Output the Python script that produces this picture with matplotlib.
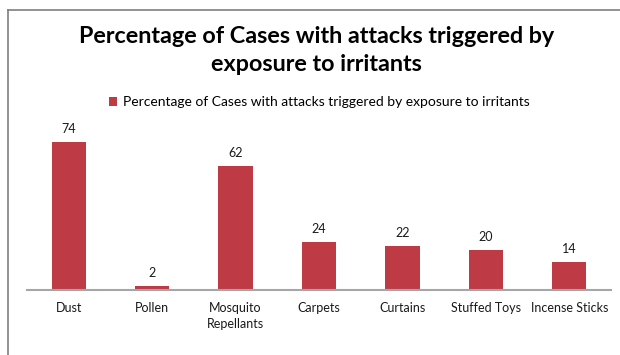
import matplotlib.pyplot as plt
from matplotlib.lines import Line2D

categories = ["Dust", "Pollen", "Mosquito\nRepellants", "Carpets", "Curtains",
              "Stuffed Toys", "Incense Sticks"]
values = [74, 2, 62, 24, 22, 20, 14]
series_name = "Percentage of Cases with attacks triggered by exposure to irritants"
title = "Percentage of Cases with attacks triggered by\nexposure to irritants"

plt.rcParams["font.family"] = ["Lato", "DejaVu Sans"]

fig = plt.figure(figsize=(6.2, 3.55), dpi=100)
W, H = 620, 355

# chart area border (only top and left edges visible)
fig.add_artist(Line2D([8 / W, 8 / W], [0, 1 - 10 / H], transform=fig.transFigure,
                      color="#7f7f7f", lw=1.2))
fig.add_artist(Line2D([8 / W, 1], [1 - 10 / H, 1 - 10 / H], transform=fig.transFigure,
                      color="#7f7f7f", lw=1.2))

# plot area: baseline at y=290, 2 px per unit
left, right = 27, 611
base = 290
top = 142 - 20
ax = fig.add_axes([left / W, 1 - base / H, (right - left) / W, (base - top) / H])
ymax = (base - top) / 2.0

x = range(len(categories))
bars = ax.bar(x, values, width=0.41, color="#BE3B45", label=series_name)
for xi, v in zip(x, values):
    ax.text(xi, v + 3.5, str(v), ha="center", va="bottom", fontsize=9, color="#1a1a1a")

ax.set_xlim(-0.5, len(categories) - 0.5)
ax.set_ylim(0, ymax)
ax.set_xticks(list(x))
ax.set_xticklabels(categories, fontsize=9, color="#1a1a1a", linespacing=1.4)
ax.tick_params(axis="x", length=0, pad=9)
ax.set_yticks([])
for s in ["top", "right", "left"]:
    ax.spines[s].set_visible(False)
ax.spines["bottom"].set_color("#a6a6a6")
ax.spines["bottom"].set_linewidth(1.5)

fig.text(0.51, 1 - 50.5 / H, title, ha="center", va="center", fontsize=16.8,
         fontweight="bold", linespacing=1.45, color="black")

fig.legend(handles=[bars], labels=[series_name], loc="center",
           bbox_to_anchor=(0.515, 1 - 102 / H), frameon=False, fontsize=10,
           handlelength=0.6, handleheight=0.6, handletextpad=0.4)

fig.savefig("out.png", dpi=100)
